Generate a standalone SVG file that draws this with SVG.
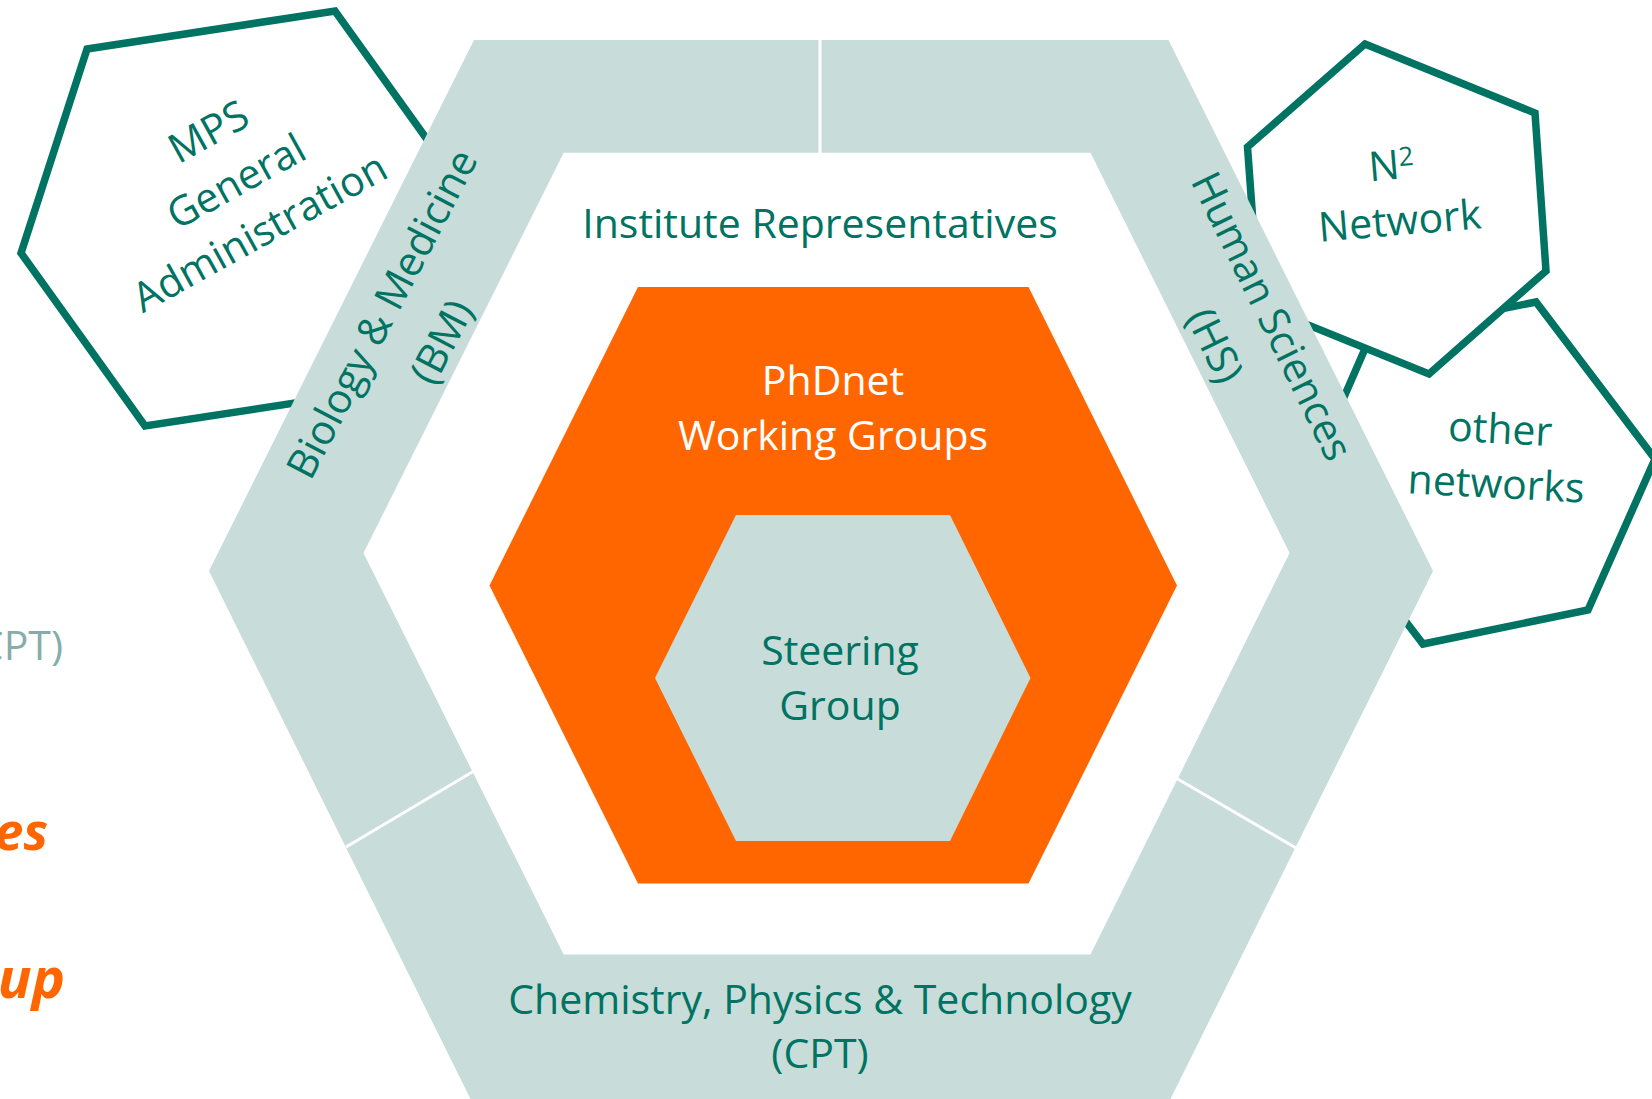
<svg xmlns="http://www.w3.org/2000/svg" width="1652" height="1099" viewBox="0 0 1652 1099">
  <style>
    .t { font-family: "Open Sans", "Noto Sans", "Liberation Sans", sans-serif; font-size: 41px; fill: #007363; text-anchor: middle; }
    .w { fill: #ffffff; }
    .hexline { fill: #ffffff; stroke: #007363; stroke-width: 7.5; stroke-linejoin: miter; }
    .grey { fill: #C8DCD9; }
    .orange { fill: #FF6600; }
    .div { stroke: #ffffff; stroke-width: 3; fill: none; }
    .legend { font-family: "Open Sans", "Noto Sans", "Liberation Sans", sans-serif; text-anchor: end; }
  </style>
  <rect x="0" y="0" width="1652" height="1099" fill="#ffffff"/>

  <!-- partial legend texts at the left edge -->
  <g id="legend">
    <text class="legend" x="63" y="660" font-size="41" fill="#86ADAA">CPT)</text>
    <text class="legend" x="48" y="850" font-size="52" font-weight="bold" font-style="italic" fill="#FF6600">es</text>
    <text class="legend" x="65" y="998" font-size="56" font-weight="bold" font-style="italic" fill="#FF6600">up</text>
  </g>

  <g id="mps-admin">
    <polygon class="hexline" points="87,49 335,11 459,184 393,388 145,426 21,253"/>
    <g transform="rotate(-29 243 194)">
      <text class="t" x="243" y="137">MPS</text>
      <text class="t" x="243" y="194">General</text>
      <text class="t" x="239" y="250">Administration</text>
    </g>
  </g>

  <g id="other-networks">
    <polygon class="hexline" points="1371,335 1536,302 1655,459 1588,610 1423,644 1304,489"/>
    <g transform="rotate(3 1499.5 443.3)">
      <text class="t" x="1499.5" y="443.3">other</text>
      <text class="t" x="1498.3" y="498.1">networks</text>
    </g>
  </g>

  <g id="n2-network">
    <polygon class="hexline" points="1365,44 1535,113 1546,271 1429,374 1259,305 1247.5,147"/>
    <g transform="rotate(-4.7 1400.8 235)">
      <text class="t" x="1397" y="179">N<tspan font-size="26" dy="-13">2</tspan></text>
      <text class="t" x="1400.8" y="235">Network</text>
    </g>
  </g>

  <g id="institute-representatives">
    <path class="grey" fill-rule="evenodd" d="M474,40 L1168.5,40 L1433,571 L1169,1102 L472,1102 L209,571 Z M563.7,152.8 L363.5,553 L563.7,954.6 L1090.5,954.6 L1289.6,553 L1090.5,152.8 Z"/>
    <text class="t" x="820" y="238">Institute Representatives</text>
  </g>

  <g id="dividers">
    <line class="div" x1="820" y1="38" x2="820" y2="154"/>
    <line class="div" x1="474" y1="771" x2="346" y2="847"/>
    <line class="div" x1="1176" y1="778" x2="1296" y2="848"/>
  </g>

  <g id="biology-medicine">
    <g transform="rotate(-62.5 394.6 320.4)">
      <text class="t" x="394.6" y="320.4">Biology &amp; Medicine</text>
      <text class="t" x="397.3" y="386.2">(BM)</text>
    </g>
  </g>

  <g id="human-sciences">
    <g transform="rotate(64 1259.2 322.5)">
      <text class="t" x="1259.2" y="322.5">Human Sciences</text>
      <text class="t" x="1260.6" y="386.5">(HS)</text>
    </g>
  </g>

  <g id="chemistry-physics-technology">
    <text class="t" x="820" y="1014">Chemistry, Physics &amp; Technology</text>
    <text class="t" x="820" y="1068">(CPT)</text>
  </g>

  <g id="phdnet-working-groups">
    <polygon class="orange" points="638,287 1028.5,287 1177,585.5 1028.5,883.5 638,883.5 489.5,585.5"/>
    <text class="t w" x="833" y="395">PhDnet</text>
    <text class="t w" x="833" y="450">Working Groups</text>
  </g>

  <g id="steering-group">
    <polygon class="grey" points="736,515 950,515 1030.5,678 950,841 736,841 655,678"/>
    <text class="t" x="840" y="665">Steering</text>
    <text class="t" x="840" y="720">Group</text>
  </g>
</svg>
